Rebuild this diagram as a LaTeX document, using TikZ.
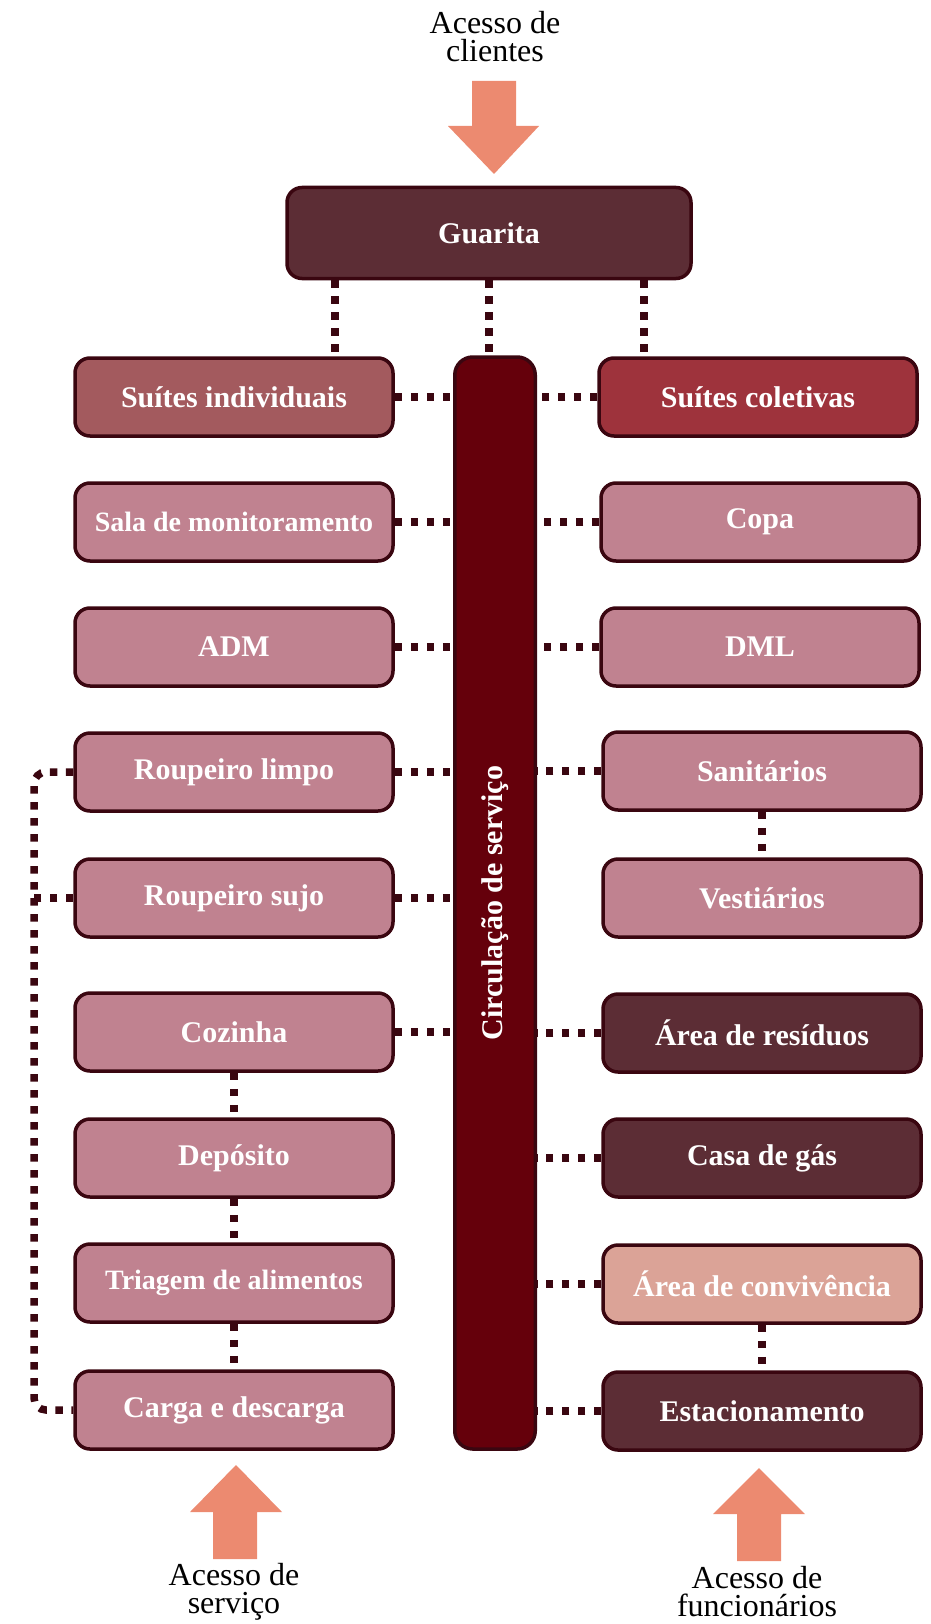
\documentclass[tikz,border=0pt]{standalone}
\usepackage{fontspec}
\setmainfont{Liberation Serif}
\definecolor{darkbox}{HTML}{5C2D35}
\definecolor{edgecol}{HTML}{3A0610}
\definecolor{pinkbox}{HTML}{C08290}
\definecolor{suiteind}{HTML}{A35A5E}
\definecolor{suitecol}{HTML}{9E333C}
\definecolor{convbox}{HTML}{DBA397}
\definecolor{barcol}{HTML}{65000B}
\definecolor{arrowcol}{HTML}{EC8A70}
\tikzset{
  roombox/.style={draw=edgecol, line width=3.5pt, rounded corners=15pt, text=white,
    minimum width=318pt, minimum height=78pt, inner sep=0pt,
    font=\bfseries\fontsize{30}{30}\selectfont},
  dotline/.style={draw=edgecol, line width=7.5pt, dash pattern=on 7.5pt off 8.5pt},
  accesslabel/.style={align=center, font=\fontsize{32}{28}\selectfont, inner sep=0pt},
  accessarrow/.style={fill=arrowcol, draw=none}
}
\begin{document}
\begin{tikzpicture}[x=1pt, y=-1pt]
\useasboundingbox (0,0) rectangle (931,1624);

% central bar
\node[draw=edgecol, line width=3.5pt, fill=barcol, rounded corners=18pt,
  minimum width=80.5pt, minimum height=1092pt, inner sep=0pt] (bar) at (495,903) {};
\node[rotate=90, text=white, font=\bfseries\fontsize{30}{30}\selectfont] (bartext) at (bar.center) {Circulação de serviço};

% Guarita
\node[roombox, fill=darkbox, minimum width=404pt, minimum height=91pt] (guarita) at (489,233) {Guarita};

% left column
\node[roombox, fill=suiteind] (si) at (234,397) {Suítes individuais};
\node[roombox, fill=pinkbox, font=\bfseries\fontsize{28}{28}\selectfont] (sala) at (234,522) {Sala de monitoramento};
\node[roombox, fill=pinkbox] (adm) at (234,647) {ADM};
\node[roombox, fill=pinkbox] (rl) at (234,772) {Roupeiro limpo};
\node[roombox, fill=pinkbox] (rs) at (234,898) {Roupeiro sujo};
\node[roombox, fill=pinkbox] (coz) at (234,1032) {Cozinha};
\node[roombox, fill=pinkbox] (dep) at (234,1158) {Depósito};
\node[roombox, fill=pinkbox, font=\bfseries\fontsize{28}{28}\selectfont] (tri) at (234,1283) {Triagem de alimentos};
\node[roombox, fill=pinkbox] (cd) at (234,1410) {Carga e descarga};

% right column
\node[roombox, fill=suitecol] (sc) at (758,397) {Suítes coletivas};
\node[roombox, fill=pinkbox] (copa) at (760,522) {Copa};
\node[roombox, fill=pinkbox] (dml) at (760,647) {DML};
\node[roombox, fill=pinkbox] (san) at (762,771) {Sanitários};
\node[roombox, fill=pinkbox] (ves) at (762,898) {Vestiários};
\node[roombox, fill=darkbox] (res) at (762,1033) {Área de resíduos};
\node[roombox, fill=darkbox] (gas) at (762,1158) {Casa de gás};
\node[roombox, fill=convbox] (conv) at (762,1284) {Área de convivência};
\node[roombox, fill=darkbox] (est) at (762,1411) {Estacionamento};

% Guarita links
\draw[dotline] ([xshift=-154pt]guarita.south) -- ([xshift=-154pt]guarita.south |- si.north);
\draw[dotline] (guarita.south) -- (guarita.south |- bar.north);
\draw[dotline] ([xshift=155pt]guarita.south) -- ([xshift=155pt]guarita.south |- sc.north);

% left links to bar
\foreach \n in {si,sala,adm,rl,rs,coz}{
  \draw[dotline] (\n.east) -- (\n.east -| bar.west);
}
% right links to bar
\foreach \n in {sc,copa,dml,san,res,gas,conv,est}{
  \draw[dotline] (\n.west) -- (\n.west -| bar.east);
}

% vertical links
\draw[dotline] (coz.south) -- (dep.north);
\draw[dotline] (dep.south) -- (tri.north);
\draw[dotline] (tri.south) -- (cd.north);
\draw[dotline] (san.south) -- (ves.north);
\draw[dotline] (conv.south) -- (est.north);

% left loop
\coordinate (loopx) at (34,0);
\draw[dotline, rounded corners=12pt] (rl.west) -- (loopx |- rl.west) -- (loopx |- cd.west) -- (cd.west);
\draw[dotline] (rs.west) -- (rs.west -| loopx);

% access arrows
\fill[accessarrow] (472,81) -- (516,81) -- (516,126) -- (539,126) -- (494,174) -- (448,126) -- (472,126) -- cycle;
\node[accesslabel] (lblcli) at (495,37) {Acesso de\\clientes};

\fill[accessarrow] (213,1559) -- (257,1559) -- (257,1512) -- (282,1512) -- (236,1465) -- (190,1512) -- (213,1512) -- cycle;
\node[accesslabel] (lblserv) at (234,1592) {Acesso de\\serviço};

\fill[accessarrow] (737,1561) -- (781,1561) -- (781,1514) -- (805,1514) -- (759,1468) -- (713,1514) -- (737,1514) -- cycle;
\node[accesslabel] (lblfunc) at (757,1592) {Acesso de\\funcionários};
\end{tikzpicture}
\end{document}
